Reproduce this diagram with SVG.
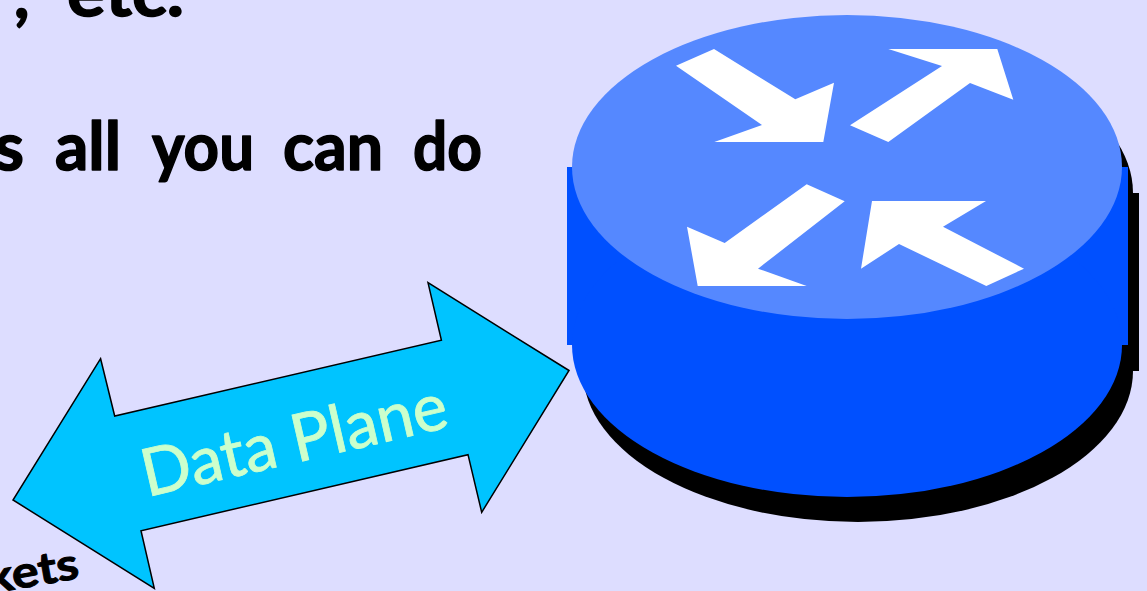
<svg xmlns="http://www.w3.org/2000/svg" width="1147" height="591" viewBox="0 0 1147 591">
<style>
.t{font-family:"Lato","Open Sans","Liberation Sans",sans-serif;font-weight:700;fill:#000;stroke:#000;stroke-linejoin:round}
.m{font-size:66px;stroke-width:1.5px}
.s{fill:#000}
.b{fill:#0050ff}
.w{fill:#fff}
</style>
<rect width="1147" height="591" fill="#ddddff"/>
<g id="caption">
<text class="t m" x="14" y="18">,</text>
<text class="t m" x="67" y="16" textLength="117" lengthAdjust="spacingAndGlyphs">etc.</text>
<text class="t m" x="-6" y="170" textLength="30" lengthAdjust="spacingAndGlyphs">s</text>
<text class="t m" x="55" y="170" textLength="66" lengthAdjust="spacingAndGlyphs">all</text>
<text class="t m" x="152" y="170" textLength="102" lengthAdjust="spacingAndGlyphs">you</text>
<text class="t m" x="283" y="170" textLength="100" lengthAdjust="spacingAndGlyphs">can</text>
<text class="t m" x="413" y="170" textLength="69" lengthAdjust="spacingAndGlyphs">do</text>
</g>
<g id="packets-label">
<text class="t" transform="translate(-11,594) rotate(-10)" font-size="44" stroke-width="1" textLength="93" lengthAdjust="spacingAndGlyphs">kets</text>
</g>
<g id="data-plane">
<polygon points="569,370.5 428,282.7 441.4,340.3 114.7,416 100.6,358.7 13,500 154.3,588.3 141,530.7 468,454.7 481.7,512.3" fill="#00c4ff" stroke="#000" stroke-width="1.5" stroke-linejoin="miter"/>
<text transform="translate(147,497) rotate(-13)" font-family="Lato,'Open Sans','Liberation Sans',sans-serif" font-size="66" fill="#ccffcc" stroke="#ccffcc" stroke-width="0.8" textLength="312" lengthAdjust="spacingAndGlyphs">Data Plane</text>
</g>
<g id="router">
<g id="router-shadow">
<ellipse class="s" cx="858" cy="193" rx="275" ry="152"/>
<rect class="s" x="578" y="193" width="561" height="178"/>
<ellipse class="s" cx="858" cy="371" rx="275" ry="151"/>
</g>
<rect class="b" x="567" y="167" width="561" height="178"/>
<ellipse class="b" cx="847" cy="345" rx="275" ry="152"/>
<ellipse cx="847" cy="167" rx="275" ry="152" fill="#5588ff"/>
<polygon class="w" points="676,65.7 714,49 795.3,99.3 834,82.7 823.3,142 714.3,142 762,125"/>
<polygon class="w" points="888.3,49 997.3,49 1013.3,99.7 970,83 888.3,142 850,125.3 942,66"/>
<polygon class="w" points="806.7,184.3 844.7,201.3 758,268.7 806.7,286 697.7,286 687,226.7 724.7,243"/>
<polygon class="w" points="872,201 986,201 943,226.7 1024,268.7 986.3,286 899,244 861,268.7"/>
</g>
<g id="connectors"/>
</svg>
